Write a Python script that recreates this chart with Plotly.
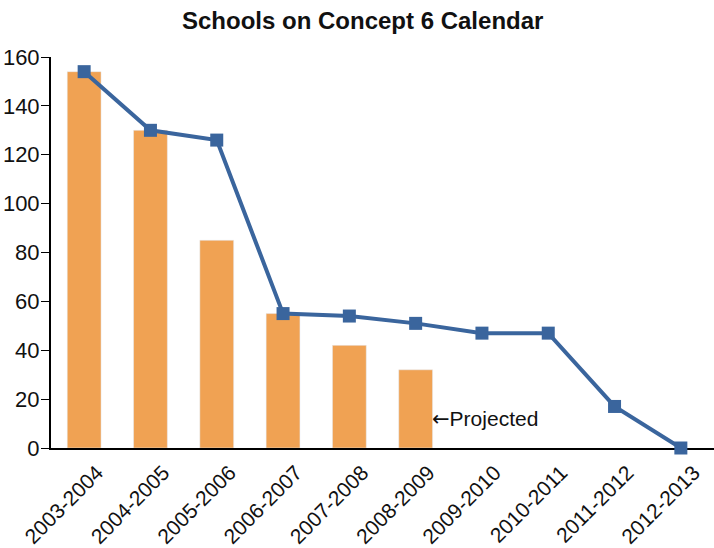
import plotly.graph_objects as go

years = ["2003-2004", "2004-2005", "2005-2006", "2006-2007", "2007-2008",
         "2008-2009", "2009-2010", "2010-2011", "2011-2012", "2012-2013"]
actual = [154, 130, 85, 55, 42, 32]
projected = [154, 130, 126, 55, 54, 51, 47, 47, 17, 0]
y_ticks = [0, 20, 40, 60, 80, 100, 120, 140, 160]

fig = go.Figure()
fig.add_trace(go.Bar(x=years[:len(actual)], y=actual, marker_color="#F0A253",
                     width=0.51, showlegend=False))
fig.add_trace(go.Scatter(x=years, y=projected, mode="lines+markers",
                         line=dict(color="#3A659D", width=4),
                         marker=dict(symbol="square", size=13, color="#3A659D"),
                         cliponaxis=False, showlegend=False))
fig.add_annotation(x=5.22, y=12, xref="x", yref="y",
                   text='<span style="font-family:DejaVu Sans">←</span>Projected',
                   showarrow=False, xanchor="left", yanchor="middle",
                   font=dict(size=21, color="#111111", family="Liberation Sans, Arial"))

fig.update_layout(
    width=714, height=548,
    margin=dict(l=51, r=0, t=57, b=100),
    plot_bgcolor="white", paper_bgcolor="white",
    font=dict(family="Liberation Sans, Arial", size=21, color="#111111"),
    title=dict(text="<b>Schools on Concept 6 Calendar</b>", x=0.508, xanchor="center",
               y=0.963, yanchor="middle", font=dict(size=24, color="#111111")),
)
fig.update_xaxes(type="category", categoryorder="array", categoryarray=years,
                 range=[-0.5, 9.5], tickangle=-45, showline=True, linecolor="black",
                 linewidth=2, ticks="", showgrid=False, tickfont=dict(size=21),
                 ticklabelshift=13, ticklabelstandoff=2,
                 automargin=False, layer="below traces")
fig.update_yaxes(range=[0, 160], tickvals=y_ticks, showline=True, linecolor="black",
                 linewidth=2, ticks="outside", ticklen=8, tickcolor="black", tickwidth=1,
                 showgrid=False, zeroline=False, tickfont=dict(size=22),
                 ticklabelstandoff=-3, automargin=False)

fig.write_html("out.html", config={"displayModeBar": False},
               post_script="document.body.style.margin='0';")
